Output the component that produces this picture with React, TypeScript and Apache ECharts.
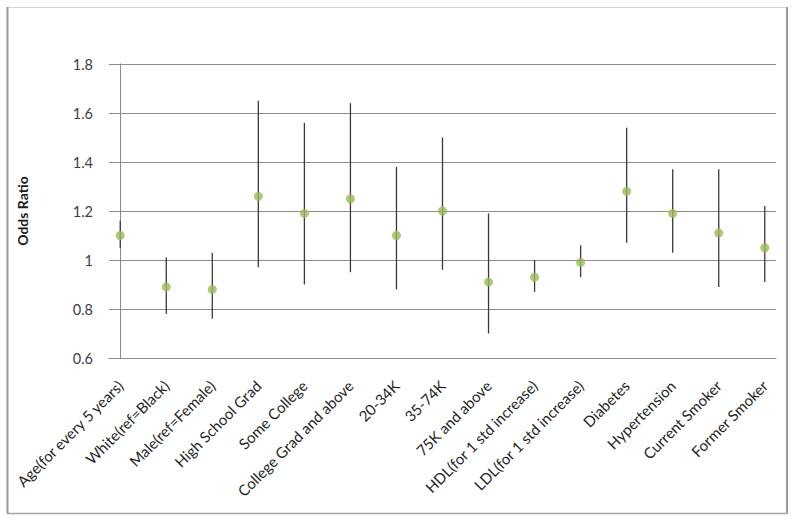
import React, { useEffect, useRef } from "react";
import * as echarts from "echarts";

const categories = [
  "Age(for every 5 years)",
  "White(ref=Black)",
  "Male(ref=Female)",
  "High School Grad",
  "Some College",
  "College Grad and above",
  "20-34K",
  "35-74K",
  "75K and above",
  "HDL(for 1 std increase)",
  "LDL(for 1 std increase)",
  "Diabetes",
  "Hypertension",
  "Current Smoker",
  "Former Smoker",
];
const oddsRatio = [1.10, 0.89, 0.88, 1.26, 1.19, 1.25, 1.10, 1.20, 0.91, 0.93, 0.99, 1.28, 1.19, 1.11, 1.05];
const lowerCI = [1.05, 0.78, 0.76, 0.97, 0.90, 0.95, 0.88, 0.96, 0.70, 0.87, 0.93, 1.07, 1.03, 0.89, 0.91];
const upperCI = [1.16, 1.01, 1.03, 1.65, 1.56, 1.64, 1.38, 1.50, 1.19, 1.00, 1.06, 1.54, 1.37, 1.37, 1.22];
const yMin = 0.6;
const yMax = 1.8;
const yInterval = 0.2;

const FONT = "Lato, 'Open Sans', sans-serif";

export default function App() {
  const ref = useRef<HTMLDivElement>(null);
  useEffect(() => {
    if (!ref.current) return;
    const chart = echarts.init(ref.current, undefined, { renderer: "svg" });
    const idx = categories.map((_, i) => i);
    const option: any = {
      animation: false,
      backgroundColor: "#ffffff",
      textStyle: { fontFamily: FONT },
      grid: { left: 109, right: 19, top: 64, height: 294, containLabel: false },
      xAxis: {
        type: "value",
        min: -0.244,
        max: categories.length - 1 + 0.244,
        axisLine: { show: true, lineStyle: { color: "#8c8c8c", width: 1 } },
        axisTick: { show: false },
        splitLine: { show: false },
        axisLabel: {
          customValues: idx,
          formatter: (v: number) => categories[Math.round(v)] ?? "",
          rotate: 45,
          margin: 25,
          color: "#1f1f1f",
          fontSize: 15,
          fontFamily: FONT,
        },
      },
      yAxis: {
        type: "value",
        min: yMin,
        max: yMax,
        interval: yInterval,
        name: "Odds Ratio",
        nameLocation: "middle",
        nameRotate: 90,
        nameGap: 80,
        nameTextStyle: { fontWeight: "bold", fontSize: 14, color: "#1a1a1a", fontFamily: FONT },
        axisLine: { show: true, lineStyle: { color: "#8c8c8c", width: 1 } },
        axisTick: { show: false },
        splitLine: { show: true, lineStyle: { color: "#8c8c8c", width: 1 } },
        axisLabel: {
          margin: 16,
          color: "#404040",
          fontSize: 14.5,
          fontFamily: FONT,
          formatter: (v: number) => String(Math.round(v * 10) / 10),
        },
      },
      graphic: [
        { type: "line", shape: { x1: 7.5, y1: 7.5, x2: 787, y2: 7.5 }, style: { stroke: "#d4d4d4", lineWidth: 1 } },
        { type: "line", shape: { x1: 7.5, y1: 7, x2: 7.5, y2: 513.5 }, style: { stroke: "#9a9a9a", lineWidth: 2 } },
        { type: "line", shape: { x1: 787, y1: 7, x2: 787, y2: 513.5 }, style: { stroke: "#9a9a9a", lineWidth: 2 } },
        { type: "line", shape: { x1: 7, y1: 513.5, x2: 788, y2: 513.5 }, style: { stroke: "#a6a6a6", lineWidth: 1.5 } },
      ],
      series: [
        {
          type: "custom",
          data: idx.map((i) => [i, lowerCI[i], upperCI[i]]),
          encode: { x: 0, y: [1, 2] },
          renderItem: (params: any, api: any) => {
            const i = api.value(0);
            const lo = api.coord([i, api.value(1)]);
            const hi = api.coord([i, api.value(2)]);
            return {
              type: "line",
              shape: { x1: lo[0], y1: lo[1], x2: hi[0], y2: hi[1] },
              style: { stroke: "#3a3a3a", lineWidth: 1.3 },
            };
          },
          z: 2,
        },
        {
          type: "scatter",
          data: idx.map((i) => [i, oddsRatio[i]]),
          symbol: "circle",
          symbolSize: 9,
          itemStyle: { color: "#9BBB59" },
          z: 3,
        },
      ],
    };
    chart.setOption(option);
    return () => chart.dispose();
  }, []);
  return (
    <div
      ref={ref}
      style={{ position: "fixed", left: 0, top: 0, width: 795, height: 521 }}
    />
  );
}
